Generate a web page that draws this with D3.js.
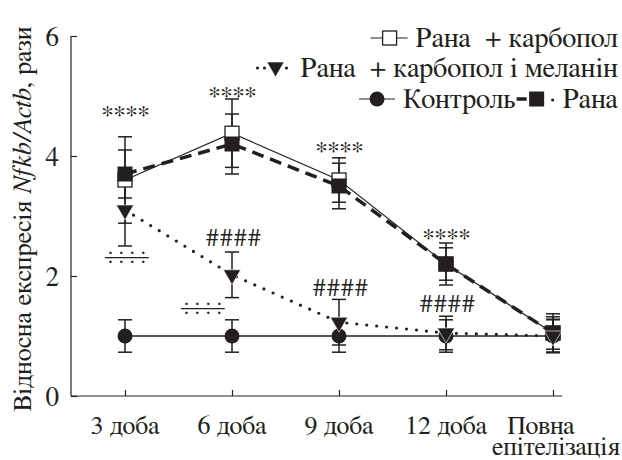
<!DOCTYPE html>
<html>
<head>
<meta charset="utf-8">
<script src="https://cdn.jsdelivr.net/npm/d3@7"></script>
<style>
  html, body { margin: 0; padding: 0; background: #fff; }
  svg { display: block; }
  svg text { font-family: FreeSerif, 'PT Serif', 'Liberation Serif', serif; fill: #231f20; }
</style>
</head>
<body>
<div id="chart"></div>
<script>
// Data
const categories = ['3 доба', '6 доба', '9 доба', '12 доба', 'Повна епітелізація'];
const yTicks = [0, 2, 4, 6];

const controlMean = [1.0, 1.0, 1.0, 1.0, 1.0];
const controlErr = [0.27, 0.27, 0.27, 0.27, 0.27];

const carbopolMean = [3.6, 4.38, 3.6, 2.2, 1.05];
const carbopolErr = [0.72, 0.57, 0.37, 0.35, 0.32];

const woundMean = [3.7, 4.2, 3.5, 2.2, 1.05];
const woundErr = [0.4, 0.5, 0.38, 0.27, 0.27];

const melaninMean = [3.1, 2.02, 1.23, 1.05, 1.0];
const melaninErr = [0.6, 0.38, 0.38, 0.28, 0.28];

// significance marks: category index, level (data units, glyph centre), text
const starMarks = [[0, 4.78, '****'], [1, 5.1, '****'], [2, 4.18, '****'], [3, 2.73, '****']];
const hashMarks = [[1, 2.65, '####'], [2, 1.82, '####'], [3, 1.55, '####']];
const divMarks = [[0, 2.33, '÷÷÷÷'], [1, 1.48, '÷÷÷÷']];

const W = 622, H = 460;
const margin = { top: 36, right: 60, bottom: 64, left: 71 };
const width = W - margin.left - margin.right;
const height = H - margin.top - margin.bottom;
const ink = '#231f20';

const svg = d3.select('#chart').append('svg')
  .attr('width', W).attr('height', H);
const g = svg.append('g').attr('transform', `translate(${margin.left},${margin.top})`);

const x = d3.scalePoint().domain(categories).range([54, 482]);
const y = d3.scaleLinear().domain([0, 6]).range([height, 0]);

// Axes
const yAxis = g.append('g')
  .call(d3.axisLeft(y).tickValues(yTicks).tickFormat(d3.format('d')).tickSize(-6).tickPadding(12))
  .call(a => a.select('.domain').attr('d', `M0,0V${height}`));
yAxis.selectAll('text').style('font-size', '27px').attr('dy', '0.34em');

g.append('g')
  .attr('transform', `translate(0,${height})`)
  .call(d3.axisBottom(x).tickSize(-6).tickFormat(''))
  .call(a => a.select('.domain').attr('d', `M0,0H${width}`));
g.selectAll('.tick line, .domain').attr('stroke', ink).attr('stroke-width', 1.2);

const xLab = g.append('g').style('font-size', '26px');
categories.forEach((c, i) => {
  if (i < categories.length - 1) {
    xLab.append('text').attr('x', x(c)).attr('y', height + 38)
      .attr('text-anchor', 'middle').text(c);
  } else {
    const parts = c.split(' ');
    xLab.append('text').attr('x', x(c) - 12).attr('y', height + 38)
      .attr('text-anchor', 'middle').text(parts[0]);
    xLab.append('text').attr('x', W - margin.left - 2).attr('y', height + 59)
      .attr('text-anchor', 'end').text(parts[1]);
  }
});

// Y title
const yt = svg.append('text')
  .attr('transform', 'translate(31,219) rotate(-90)')
  .attr('text-anchor', 'middle')
  .style('font-size', '26.5px');
yt.append('tspan').text('Відносна експресія ');
yt.append('tspan').style('font-style', 'italic').text('Nfkb/Actb');
yt.append('tspan').text(', рази');

// Lines
const series = [
  { mean: controlMean, err: controlErr, dash: null, w: 1.3, marker: 'circle' },
  { mean: carbopolMean, err: carbopolErr, dash: null, w: 1.1, marker: 'open' },
  { mean: woundMean, err: woundErr, dash: '12,7', w: 3.5, marker: 'square' },
  { mean: melaninMean, err: melaninErr, dash: '0,10', w: 3.2, marker: 'tri', cap: 'round' }
];

const line = d3.line().x((d, i) => x(categories[i])).y(d => y(d));

series.forEach(s => {
  g.append('path').datum(s.mean)
    .attr('d', line)
    .attr('fill', 'none')
    .attr('stroke', ink)
    .attr('stroke-width', s.w)
    .attr('stroke-dasharray', s.dash)
    .attr('stroke-linecap', s.cap || 'butt');
});

// Error bars
series.forEach(s => {
  const eb = g.append('g').attr('stroke', ink).attr('stroke-width', 1.5);
  s.mean.forEach((m, i) => {
    const cx = x(categories[i]);
    const hi = y(m + s.err[i]), lo = y(m - s.err[i]);
    eb.append('line').attr('x1', cx).attr('x2', cx).attr('y1', hi).attr('y2', lo);
    eb.append('line').attr('x1', cx - 7).attr('x2', cx + 7).attr('y1', hi).attr('y2', hi);
    eb.append('line').attr('x1', cx - 7).attr('x2', cx + 7).attr('y1', lo).attr('y2', lo);
  });
});

// Markers
const tri = d3.symbol().type(d3.symbolTriangle).size(130);
function drawMarker(sel, type, cx, cy) {
  if (type === 'circle') {
    sel.append('circle').attr('cx', cx).attr('cy', cy).attr('r', 7.5).attr('fill', ink);
  } else if (type === 'open') {
    sel.append('rect').attr('x', cx - 7).attr('y', cy - 7).attr('width', 14).attr('height', 14)
      .attr('fill', '#fff').attr('stroke', ink).attr('stroke-width', 1.3);
  } else if (type === 'square') {
    sel.append('rect').attr('x', cx - 7.5).attr('y', cy - 7.5).attr('width', 15).attr('height', 15)
      .attr('fill', ink);
  } else if (type === 'tri') {
    sel.append('path').attr('d', tri)
      .attr('transform', `translate(${cx},${cy}) rotate(180)`)
      .attr('fill', ink).attr('stroke', '#fff').attr('stroke-width', 0.6);
  }
}
series.forEach(s => {
  const mg = g.append('g');
  s.mean.forEach((m, i) => drawMarker(mg, s.marker, x(categories[i]), y(m)));
});

// Significance marks
const ann = g.append('g');
starMarks.forEach(([i, v, t]) => {
  ann.append('text').attr('x', x(categories[i])).attr('y', y(v) + 14)
    .attr('text-anchor', 'middle').style('font-size', '26px').style('letter-spacing', '-1px').text(t);
});
hashMarks.forEach(([i, v, t]) => {
  ann.append('text').attr('x', x(categories[i]) + 2).attr('y', y(v) + 9)
    .attr('text-anchor', 'middle').style('font-size', '25px').style('letter-spacing', '1.5px').text(t);
});
divMarks.forEach(([i, v, t], k) => {
  ann.append('text').attr('x', x(categories[i]) + (k === 0 ? 1 : -30)).attr('y', y(v) + 7)
    .attr('text-anchor', 'middle').style('font-size', '22px').style('letter-spacing', '-1.5px').text(t);
});

// Legend (symbols placed left of the measured text)
const lg = svg.append('g').style('font-size', '28.5px');
function legendText(txt, xr, yb) {
  const t = lg.append('text').attr('x', xr).attr('y', yb).attr('text-anchor', 'end')
    .attr('xml:space', 'preserve').text(txt);
  return xr - t.node().getComputedTextLength();
}
let x0 = legendText('Рана  + карбопол', 618, 47);
lg.append('line').attr('x1', x0 - 45).attr('x2', x0 - 8).attr('y1', 38).attr('y2', 38).attr('stroke', ink).attr('stroke-width', 1.2);
drawMarker(lg, 'open', x0 - 26, 38);

x0 = legendText('Рана  + карбопол і меланін', 618, 77);
[x0 - 43, x0 - 36, x0 - 14].forEach(cx => lg.append('circle').attr('cx', cx).attr('cy', 68).attr('r', 1.6).attr('fill', ink));
drawMarker(lg, 'tri', x0 - 25, 67);

x0 = legendText('Рана', 618, 108);
lg.append('circle').attr('cx', x0 - 10).attr('cy', 100).attr('r', 1.6).attr('fill', ink);
drawMarker(lg, 'square', x0 - 26, 99);
lg.append('line').attr('x1', x0 - 46).attr('x2', x0 - 36).attr('y1', 99).attr('y2', 99)
  .attr('stroke', ink).attr('stroke-width', 3.5);
x0 = legendText('Контроль', x0 - 47, 108);
lg.append('line').attr('x1', x0 - 44).attr('x2', x0 - 8).attr('y1', 99).attr('y2', 99).attr('stroke', ink).attr('stroke-width', 1.2);
drawMarker(lg, 'circle', x0 - 26, 99);
</script>
</body>
</html>
